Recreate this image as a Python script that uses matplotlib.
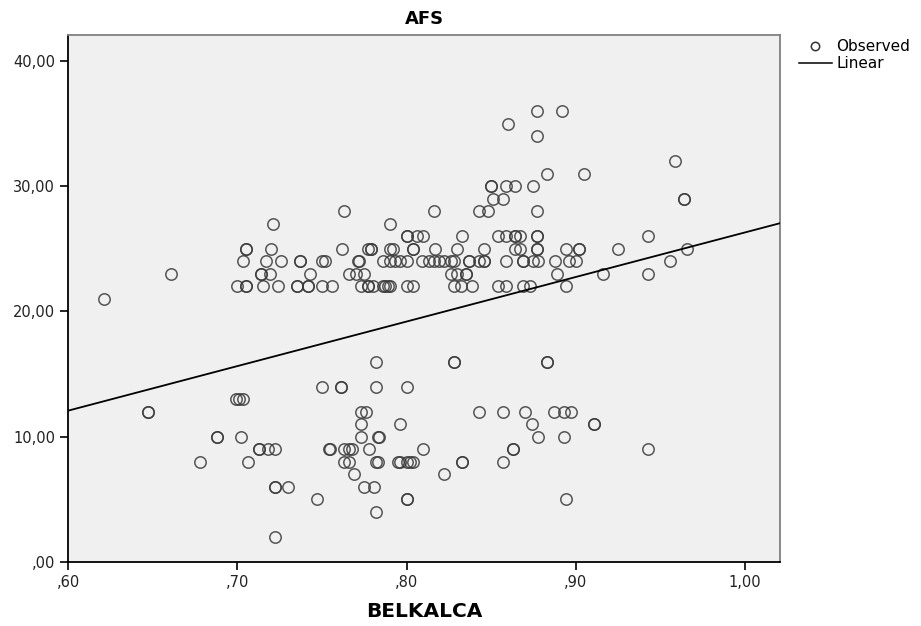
import numpy as np
import matplotlib
matplotlib.use('Agg')
import matplotlib.pyplot as plt
from matplotlib.ticker import FuncFormatter
from matplotlib.lines import Line2D

matplotlib.rcParams['font.family'] = ['DejaVu Sans']

# BELKALCA values grouped by AFS value
rows = {
    2: [0.722],
    4: [0.782],
    5: [0.747, 0.800, 0.800, 0.894],
    6: [0.722, 0.722, 0.730, 0.775, 0.781],
    7: [0.769, 0.822],
    8: [0.678, 0.706, 0.763, 0.766, 0.782, 0.783, 0.795, 0.796, 0.800, 0.802,
        0.804, 0.833, 0.833, 0.857],
    9: [0.713, 0.713, 0.718, 0.722, 0.754, 0.755, 0.763, 0.766, 0.768, 0.778,
        0.810, 0.863, 0.863, 0.943],
    10: [0.688, 0.688, 0.702, 0.773, 0.783, 0.784, 0.878, 0.893],
    11: [0.773, 0.796, 0.874, 0.911, 0.911],
    12: [0.647, 0.647, 0.773, 0.776, 0.843, 0.857, 0.870, 0.887, 0.893, 0.897],
    13: [0.699, 0.701, 0.703],
    14: [0.750, 0.761, 0.761, 0.782, 0.800],
    16: [0.782, 0.828, 0.828, 0.883, 0.883],
    21: [0.621],
    22: [0.700, 0.705, 0.705, 0.715, 0.724, 0.735, 0.735, 0.742, 0.742, 0.750,
         0.756, 0.773, 0.777, 0.777, 0.780, 0.786, 0.787, 0.789, 0.790, 0.800,
         0.804, 0.828, 0.832, 0.839, 0.854, 0.859, 0.869, 0.873, 0.894],
    23: [0.661, 0.714, 0.714, 0.719, 0.743, 0.766, 0.770, 0.775, 0.826, 0.830,
         0.835, 0.835, 0.889, 0.916, 0.943],
    24: [0.703, 0.717, 0.726, 0.737, 0.737, 0.750, 0.752, 0.771, 0.772, 0.786,
         0.790, 0.793, 0.796, 0.800, 0.809, 0.813, 0.816, 0.819, 0.822, 0.826,
         0.828, 0.837, 0.837, 0.843, 0.846, 0.846, 0.859, 0.869, 0.869, 0.875,
         0.878, 0.888, 0.896, 0.900, 0.956],
    25: [0.705, 0.705, 0.720, 0.762, 0.777, 0.779, 0.779, 0.790, 0.792, 0.804,
         0.804, 0.817, 0.830, 0.846, 0.864, 0.867, 0.877, 0.877, 0.894, 0.902,
         0.902, 0.925, 0.966],
    26: [0.800, 0.800, 0.806, 0.810, 0.833, 0.854, 0.859, 0.864, 0.864, 0.867,
         0.877, 0.877, 0.943],
    27: [0.721, 0.790],
    28: [0.763, 0.816, 0.843, 0.848, 0.877],
    29: [0.851, 0.857, 0.964, 0.964],
    30: [0.850, 0.850, 0.859, 0.864, 0.875],
    31: [0.883, 0.905],
    32: [0.959],
    34: [0.877],
    35: [0.860],
    36: [0.877, 0.892],
}

belkalca = np.array([x for afs, xs in rows.items() for x in xs])
afs = np.array([afs for afs, xs in rows.items() for x in xs], dtype=float)

slope, intercept = np.polyfit(belkalca, afs, 1)

fig = plt.figure(figsize=(9.21, 6.26), dpi=100)
ax = fig.add_axes([0.0742, 0.1027, 0.7730, 0.8414])
ax.set_facecolor('#f0f0f0')

ax.plot(belkalca, afs, 'o', mfc='none', mec='#3a3a3a', ms=8.2, mew=1.1,
        alpha=0.85, zorder=3)
xx = np.array([0.60, 1.021])
ax.plot(xx, intercept + slope * xx, color='black', lw=1.3, zorder=4)

ax.set_xlim(0.60, 1.021)
ax.set_ylim(0, 42.1)
ax.set_xticks([0.6, 0.7, 0.8, 0.9, 1.0])
ax.set_yticks([0, 10, 20, 30, 40])

def fmt(v, pos):
    s = f"{v:.2f}".replace('.', ',')
    if s.startswith('0'):
        s = s[1:]
    return s

ax.xaxis.set_major_formatter(FuncFormatter(fmt))
ax.yaxis.set_major_formatter(FuncFormatter(fmt))
ax.tick_params(direction='out', length=6, width=1.2, labelsize=10.5,
               colors='black', labelcolor='#222222')

for side in ['left', 'bottom']:
    ax.spines[side].set_color('black')
    ax.spines[side].set_linewidth(1.3)
for side in ['top', 'right']:
    ax.spines[side].set_color('#808080')
    ax.spines[side].set_linewidth(1.3)

ax.set_title('AFS', fontsize=13, fontweight='bold', pad=8)
ax.set_xlabel('BELKALCA', fontsize=14.5, fontweight='bold', labelpad=9)

handles = [
    Line2D([], [], marker='o', ls='none', mfc='none', mec='#333333', ms=6, mew=1.1),
    Line2D([], [], color='black', lw=1.1),
]
fig.legend(handles, ['Observed', 'Linear'], loc='upper left',
           bbox_to_anchor=(0.868, 0.937), frameon=False, fontsize=11,
           handlelength=2.1, handletextpad=0.3, labelspacing=0.1,
           borderaxespad=0, borderpad=0)

fig.savefig('out.png', dpi=100)
